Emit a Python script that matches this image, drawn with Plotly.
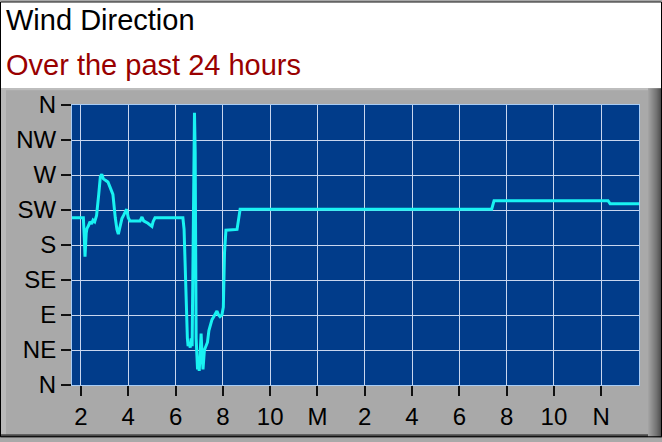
import plotly.graph_objects as go

# ---- data (hours on a 24h window, degrees 0..360) ----
hours = [1.62, 2.10, 2.14, 2.17, 2.22, 2.25, 2.32, 2.38, 2.45, 2.51, 2.58, 2.66, 2.75, 2.82, 2.88,
         2.95, 3.05, 3.14, 3.22, 3.30, 3.35, 3.45, 3.52, 3.58, 3.65, 3.73, 3.80, 3.93, 4.00, 4.07,
         4.30, 4.50, 4.58, 4.65, 4.83, 4.92, 5.00, 5.05, 5.13, 6.31, 6.36, 6.40, 6.45, 6.50, 6.53,
         6.58, 6.62, 6.66, 6.70, 6.74, 6.78, 6.80, 6.83, 6.85, 6.87, 6.90, 6.93, 6.97, 7.00, 7.04,
         7.08, 7.12, 7.16, 7.22, 7.29, 7.35, 7.41, 7.48, 7.54, 7.62, 7.70, 7.75, 7.82, 7.88, 7.96,
         8.02, 8.07, 8.13, 8.60, 8.67, 8.73, 19.37, 19.47, 24.29, 24.38, 25.60]
direction = [215, 215, 190, 165, 195, 201, 205, 210, 207, 212, 210, 218, 245, 268, 271,
             265, 263, 261, 255, 250, 245, 215, 200, 194, 205, 214, 218, 226, 215, 211,
             211, 211, 216, 211, 208, 206, 204, 210, 215, 215, 200, 160, 100, 60, 50,
             55, 48, 60, 50, 150, 280, 350, 300, 150, 60, 40, 20, 35, 18, 40,
             66, 40, 20, 45, 50, 55, 70, 80, 84, 88, 92, 95, 90, 88, 90,
             100, 170, 199, 200, 215, 226, 226, 237, 237, 233, 233]

x_tickvals = [2, 4, 6, 8, 10, 12, 14, 16, 18, 20, 22, 24]
x_ticktext = ["2", "4", "6", "8", "10", "M", "2", "4", "6", "8", "10", "N"]
y_tickvals = [0, 45, 90, 135, 180, 225, 270, 315, 360]
y_ticktext = ["N", "NE", "E", "SE", "S", "SW", "W", "NW", "N"]

title_text = "Wind Direction"
subtitle_text = "Over the past 24 hours"

# ---- layout geometry (pixels) ----
W, H = 662, 442
L, R, T, B = 72, 639, 105, 389
pw, ph = R - L, B - T


def px(x):
    return (x - L) / pw


def py(y):
    return (B - y) / ph


FONT = "Liberation Sans, Arial, sans-serif"

fig = go.Figure()
fig.add_trace(go.Scatter(x=hours, y=direction, mode="lines",
                         line=dict(color="#19F2F2", width=3), hoverinfo="skip"))

shapes = [
    # white header
    dict(type="rect", xref="paper", yref="paper", x0=px(0), x1=px(W), y0=py(88), y1=py(0),
         fillcolor="white", line=dict(width=0), layer="below"),
    # left light strip
    dict(type="rect", xref="paper", yref="paper", x0=px(0), x1=px(6), y0=py(H), y1=py(88),
         fillcolor="#B9B9B9", line=dict(width=0), layer="below"),
    # top light line of panel
    dict(type="rect", xref="paper", yref="paper", x0=px(0), x1=px(648), y0=py(90), y1=py(88),
         fillcolor="#BDBDBD", line=dict(width=0), layer="below"),
    # bottom dark line
    dict(type="rect", xref="paper", yref="paper", x0=px(0), x1=px(W), y0=py(H), y1=py(439),
         fillcolor="#4A4A4A", line=dict(width=0), layer="below"),
]
# right shadow gradient
shade = ["#A2A2A2", "#9C9C9C", "#969696", "#909090", "#8A8A8A", "#848484", "#7E7E7E",
         "#787878", "#727272", "#6A6A6A", "#626262", "#5A5A5A", "#505050", "#444444"]
for i, c in enumerate(shade):
    shapes.append(dict(type="rect", xref="paper", yref="paper", x0=px(648 + i), x1=px(649 + i),
                       y0=py(H), y1=py(88), fillcolor=c, line=dict(width=0), layer="below"))
# outer border
shapes.append(dict(type="rect", xref="paper", yref="paper", x0=px(0.5), x1=px(W - 0.5),
                   y0=py(H - 0.5), y1=py(0.5), line=dict(color="#000000", width=1),
                   fillcolor="rgba(0,0,0,0)", layer="above"))

annotations = [
    dict(text=title_text, xref="paper", yref="paper", x=px(4), y=py(19), xanchor="left",
         yanchor="middle", showarrow=False, font=dict(family=FONT, size=29, color="#000000")),
    dict(text=subtitle_text, xref="paper", yref="paper", x=px(4), y=py(64), xanchor="left",
         yanchor="middle", showarrow=False, font=dict(family=FONT, size=29, color="#990000")),
]

fig.update_layout(
    width=W, height=H,
    margin=dict(l=L, r=W - R, t=T, b=H - B, pad=0),
    paper_bgcolor="#A9A9A9",
    plot_bgcolor="#013C8A",
    showlegend=False,
    shapes=shapes,
    annotations=annotations,
    xaxis=dict(range=[1.62, 25.6], tickvals=x_tickvals, ticktext=x_ticktext,
               showgrid=True, gridcolor="#C9D6EE", gridwidth=1,
               ticks="outside", ticklen=10, tickwidth=1.5, tickcolor="#111111",
               tickfont=dict(family=FONT, size=24, color="#000000"),
               showline=True, linecolor="#A8CCF5", linewidth=1, mirror=True,
               zeroline=False, fixedrange=True),
    yaxis=dict(range=[0, 360], tickvals=y_tickvals, ticktext=y_ticktext,
               showgrid=True, gridcolor="#C9D6EE", gridwidth=1,
               ticks="outside", ticklen=10, tickwidth=1.5, tickcolor="#111111",
               tickfont=dict(family=FONT, size=24, color="#000000"),
               showline=True, linecolor="#A8CCF5", linewidth=1, mirror=True,
               zeroline=False, fixedrange=True),
)

fig.write_html("out.html", config={"displayModeBar": False},
               post_script="document.body.style.margin='0';document.body.style.overflow='hidden';")
